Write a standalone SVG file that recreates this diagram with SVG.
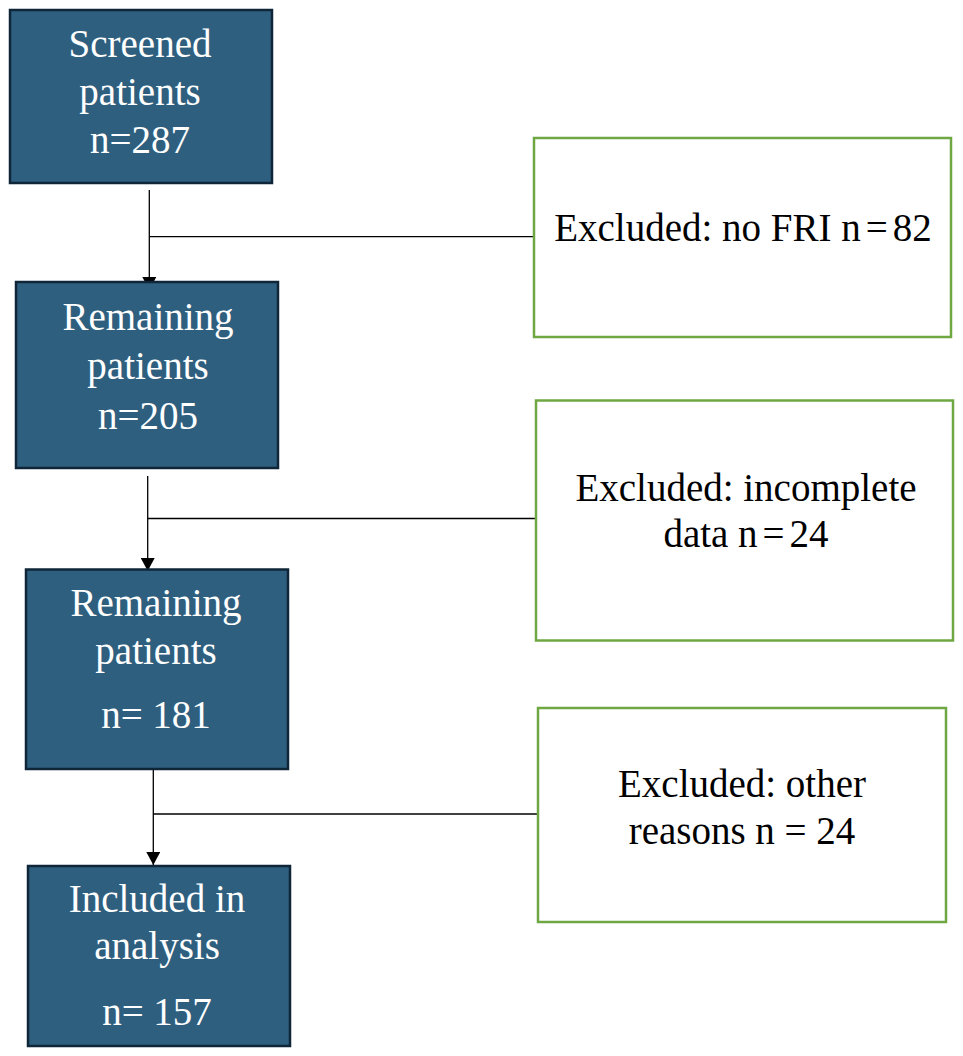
<svg xmlns="http://www.w3.org/2000/svg" width="963" height="1056" viewBox="0 0 963 1056">
<style>
.main{fill:#2f5f7f;stroke:#0f2639;stroke-width:2.5}
.ex{fill:#ffffff;stroke:#6fa843;stroke-width:2.5}
.t{font-family:"Liberation Serif","Times New Roman",serif;font-size:39px;text-anchor:middle}
.w{fill:#ffffff}
.b{fill:#000000}
.ln{stroke:#000;stroke-width:1.3;fill:none}
</style>
<defs>
<marker id="ah" viewBox="0 0 13 14" refX="13" refY="7" markerWidth="13" markerHeight="14" markerUnits="userSpaceOnUse" orient="auto">
<path d="M0,0 L13,7 L0,14 Z" fill="#000"/>
</marker>
</defs>
<rect width="963" height="1056" fill="#ffffff"/>
<g id="connectors">
<line class="ln" x1="149.3" y1="190" x2="149.3" y2="290" marker-end="url(#ah)"/>
<line class="ln" x1="149.3" y1="236.7" x2="534" y2="236.7"/>
<line class="ln" x1="147.7" y1="476" x2="147.7" y2="571" marker-end="url(#ah)"/>
<line class="ln" x1="147.7" y1="518.5" x2="536" y2="518.5"/>
<line class="ln" x1="153.3" y1="769" x2="153.3" y2="865" marker-end="url(#ah)"/>
<line class="ln" x1="153.3" y1="814" x2="538" y2="814"/>
</g>
<g id="screened">
<rect class="main" x="10" y="10" width="262" height="173"/>
<text class="t w" x="140" y="57">Screened</text>
<text class="t w" x="140" y="105">patients</text>
<text class="t w" x="140" y="153">n=287</text>
</g>
<g id="remaining1">
<rect class="main" x="16" y="282" width="262" height="186"/>
<text class="t w" x="148" y="330">Remaining</text>
<text class="t w" x="148" y="379">patients</text>
<text class="t w" x="148" y="429">n=205</text>
</g>
<g id="remaining2">
<rect class="main" x="26" y="569.5" width="262" height="199.5"/>
<text class="t w" x="156" y="616">Remaining</text>
<text class="t w" x="156" y="664">patients</text>
<text class="t w" x="156" y="728">n= 181</text>
</g>
<g id="included">
<rect class="main" x="28" y="866" width="262" height="180"/>
<text class="t w" x="157" y="912">Included in</text>
<text class="t w" x="157" y="959">analysis</text>
<text class="t w" x="157" y="1025">n= 157</text>
</g>
<g id="excluded1">
<rect class="ex" x="534" y="138" width="417" height="199"/>
<text class="t b" x="743" y="241">Excluded: no FRI n<tspan dx="5">=</tspan><tspan dx="5">82</tspan></text>
</g>
<g id="excluded2">
<rect class="ex" x="536" y="400.5" width="417" height="240"/>
<text class="t b" x="746" y="501">Excluded: incomplete</text>
<text class="t b" x="746" y="547">data n<tspan dx="5">=</tspan><tspan dx="5">24</tspan></text>
</g>
<g id="excluded3">
<rect class="ex" x="538" y="708" width="408" height="214"/>
<text class="t b" x="742" y="797">Excluded: other</text>
<text class="t b" x="742" y="844">reasons n = 24</text>
</g>
</svg>
